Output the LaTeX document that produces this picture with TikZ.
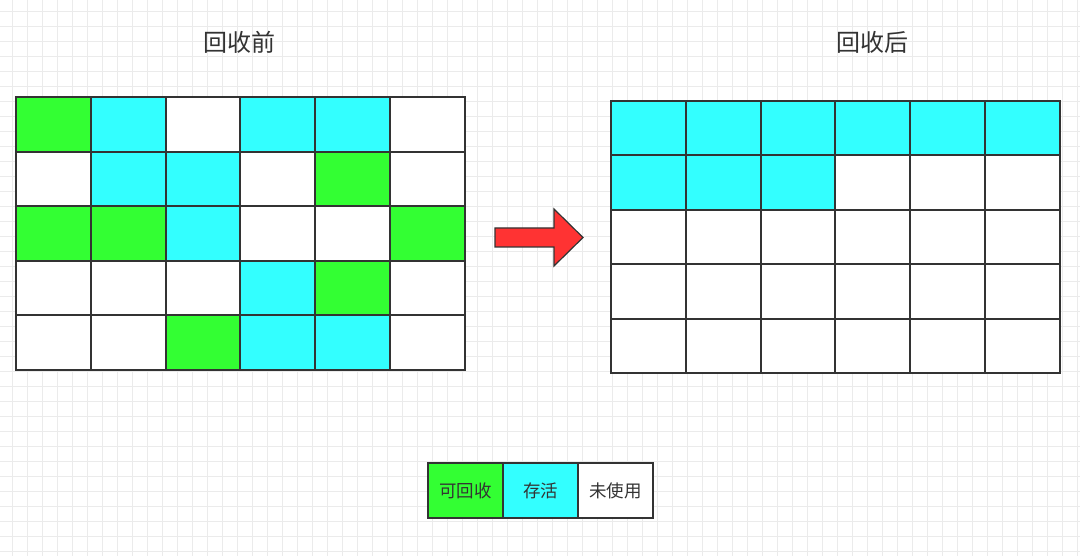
\documentclass[tikz,border=0pt]{standalone}
\usepackage{fontspec}
\setmainfont{Noto Sans CJK SC}
\definecolor{gridc}{HTML}{EBEBEB}
\definecolor{edgec}{HTML}{333333}
\definecolor{gc}{HTML}{33FF33}
\definecolor{cc}{HTML}{33FFFF}
\definecolor{rc}{HTML}{FF3333}
\begin{document}
\begin{tikzpicture}[x=1pt,y=-1pt,
  cell/.style={draw=edgec,line width=2pt,inner sep=0pt,outer sep=0pt,anchor=north west,
    minimum width=74.8pt,minimum height=54.6pt},
  G/.style={cell,fill=gc},C/.style={cell,fill=cc},W/.style={cell,fill=white},
  lcell/.style={draw=edgec,line width=2pt,inner sep=0pt,anchor=north west,
    minimum width=75pt,minimum height=55pt,font=\fontsize{17.5}{20}\selectfont,text=edgec},
  title/.style={font=\fontsize{24}{27}\selectfont,text=edgec}]
\useasboundingbox (0,0) rectangle (1080,556);
\fill[white] (0,0) rectangle (1080,556);
\foreach \i in {0,...,71} {\draw[gridc,line width=0.8pt] (12.5+\i*15,0) -- (12.5+\i*15,556);}
\foreach \j in {0,...,36} {\draw[gridc,line width=0.8pt] (0,11.7+\j*15) -- (1080,11.7+\j*15);}
\node[title] (t1) at (239,42) {回收前};
\node[title] (t2) at (872,42) {回收后};
% left grid
\foreach \row/\cols [count=\r from 0] in {0/{G,C,W,C,C,W},1/{W,C,C,W,G,W},2/{G,G,C,W,W,G},3/{W,W,W,C,G,W},4/{W,W,G,C,C,W}} {
  \foreach \s [count=\c from 0] in \cols {
    \node[\s] (L-\r-\c) at (16+\c*74.83,97+\r*54.6) {};
  }
}
% right grid
\foreach \row/\cols [count=\r from 0] in {0/{C,C,C,C,C,C},1/{C,C,C,W,W,W},2/{W,W,W,W,W,W},3/{W,W,W,W,W,W},4/{W,W,W,W,W,W}} {
  \foreach \s [count=\c from 0] in \cols {
    \node[\s] (R-\r-\c) at (611+\c*74.83,101+\r*54.4) {};
  }
}
% arrow
\draw[edgec,fill=rc,line width=1.2pt,line join=miter] (495,228) -- (554,228) -- (554,209) -- (583,237.5) -- (554,266) -- (554,247) -- (495,247) -- cycle;
% legend
\node[lcell,fill=gc] (k1) at (427,462) {可回收};
\node[lcell,fill=cc] (k2) at (502,462) {存活};
\node[lcell,fill=white] (k3) at (577,462) {未使用};
\end{tikzpicture}
\end{document}
